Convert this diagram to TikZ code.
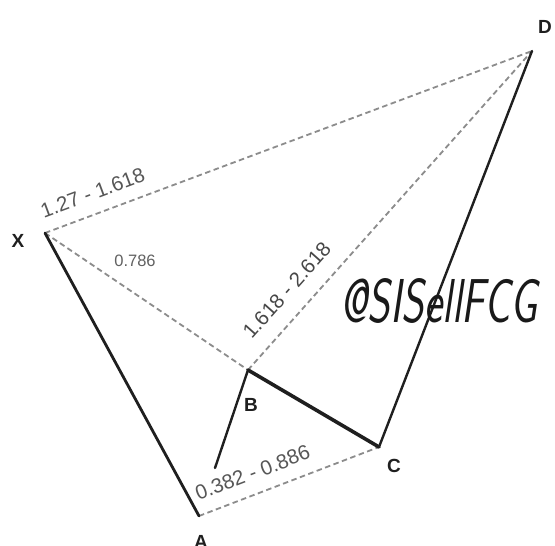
\documentclass[tikz,border=0pt]{standalone}
\usepackage{fontspec}
\newfontfamily\lblfont{Liberation Sans}
\usetikzlibrary{positioning}
\begin{document}
\begin{tikzpicture}[x=1pt, y=-1pt,
  leg/.style={line width=2.4pt, black!88, line cap=round},
  legb/.style={leg, line width=3.6pt},
  ratio/.style={dash pattern=on 5.5pt off 3.5pt, line width=1.8pt, black!45},
  ptl/.style={font=\lblfont\bfseries\fontsize{19}{19}\selectfont,
              text=black!88, inner sep=0pt},
  fib/.style={font=\lblfont\fontsize{20.5}{20.5}\selectfont, text=black!66,
              sloped, inner sep=1pt, pos=#1},
  wmark/.style={font=\sffamily\slshape\fontsize{62}{62}\selectfont,
               text=black!90, inner sep=0pt},
]
% Canvas (pixel units of the reference)
\useasboundingbox[fill=white] (0,0) rectangle (555,546);
% Pattern points
\coordinate (X) at (45,233);
\coordinate (A) at (199,516);
\coordinate (B) at (248,370);
\coordinate (C) at (379,447);
\coordinate (D) at (532,51);
\coordinate (Ab) at (215,468);
% Ratio lines
\draw[ratio] (X) -- (D)
  node[fib=0.113, above=12pt] (rXD) {1.27 - 1.618};
\draw[ratio] (B) -- (D)
  node[fib=0.2, above=15pt, text=black!72] (rBD) {1.618 - 2.618};
\draw[ratio] (A) -- (C)
  node[fib=0.34, above=12pt] (rAC) {0.382 - 0.886};
\draw[ratio] (X) -- (B);
\node[font=\lblfont\fontsize{16.5}{16.5}\selectfont, text=black!62] (rXB)
  at (135,261) {0.786};
% Legs
\draw[leg, line width=2.8pt] (X) -- (A);
\draw[leg] (Ab) -- (B);
\draw[legb] (B) -- (C);
\draw[leg] (C) -- (D);
% Point labels
\node[ptl] (lX) at (18,241) {X};
\node[ptl] (lA) at (201,542) {A};
\node[ptl] (lB) at (251,405) {B};
\node[ptl] (lC) at (394,466) {C};
\node[ptl] (lD) at (545,27) {D};
% Watermark
\node[wmark] (wm) at (439,301) {\scalebox{0.7}[1]{@SISellFCG}};
\end{tikzpicture}
\end{document}
